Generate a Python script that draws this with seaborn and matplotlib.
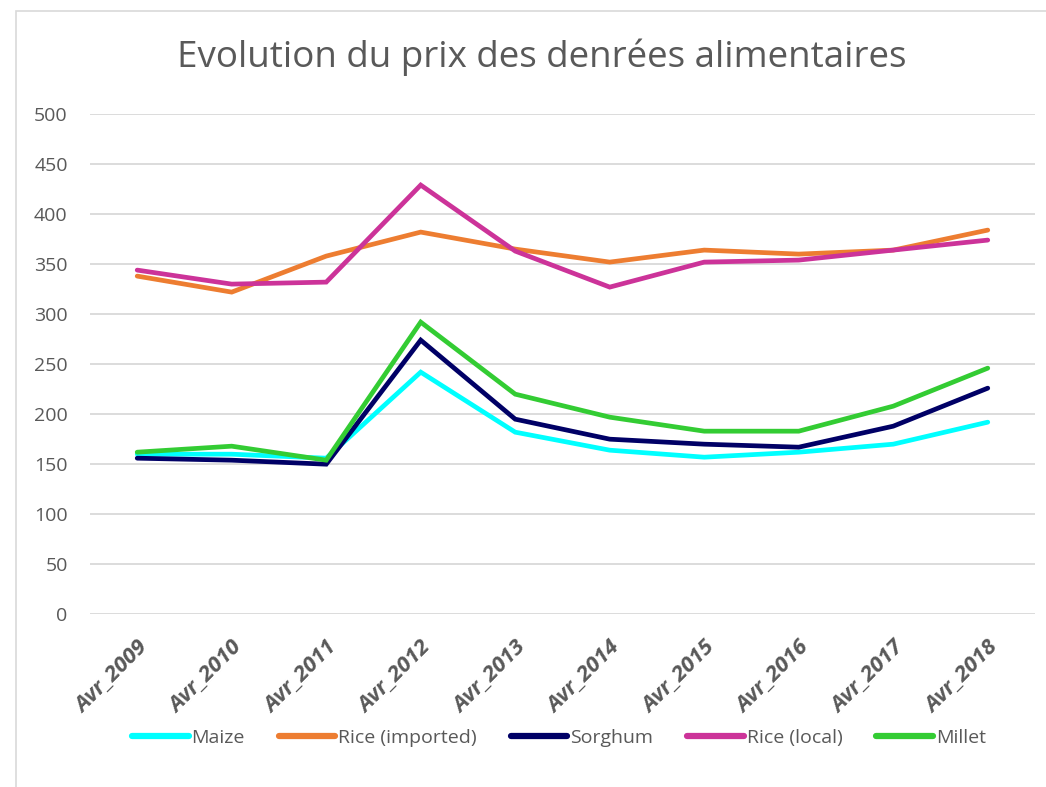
import matplotlib
matplotlib.use("Agg")
import matplotlib.pyplot as plt
import seaborn as sns
import pandas as pd
from matplotlib.patches import Rectangle

years = ["Avr_2009", "Avr_2010", "Avr_2011", "Avr_2012", "Avr_2013",
         "Avr_2014", "Avr_2015", "Avr_2016", "Avr_2017", "Avr_2018"]
maize = [160, 160, 156, 242, 182, 164, 157, 162, 170, 192]
rice_imported = [338, 322, 358, 382, 365, 352, 364, 360, 364, 384]
sorghum = [156, 154, 150, 274, 195, 175, 170, 167, 188, 226]
rice_local = [344, 330, 332, 429, 363, 327, 352, 354, 364, 374]
millet = [162, 168, 154, 292, 220, 197, 183, 183, 208, 246]

series_names = ["Maize", "Rice (imported)", "Sorghum", "Rice (local)", "Millet"]
series_values = [maize, rice_imported, sorghum, rice_local, millet]
colors = ["#00FFFF", "#ED7D31", "#000066", "#CC3399", "#33CC33"]

rows = []
for name, vals in zip(series_names, series_values):
    for i, (y, v) in enumerate(zip(years, vals)):
        rows.append({"idx": i, "year": y, "serie": name, "prix": v})
df = pd.DataFrame(rows)

sns.set_theme(style="white")
plt.rcParams["font.family"] = ["Open Sans", "DejaVu Sans"]

fig = plt.figure(figsize=(10.46, 7.87), dpi=100)
ax = fig.add_axes([0.086, 0.2195, 0.9035, 0.6356])

sns.lineplot(data=df, x="idx", y="prix", hue="serie", hue_order=series_names,
             palette=colors, linewidth=3.4, sort=False, ax=ax,
             solid_capstyle="round", solid_joinstyle="miter")

ax.set_xlim(-0.5, len(years) - 0.5)
ax.set_ylim(0, 500)
ax.set_yticks(range(0, 501, 50))
ax.set_xticks(range(len(years)))
ax.set_xticklabels(years, rotation=45, ha="right", rotation_mode="anchor",
                   fontsize=16, fontweight="bold", fontstyle="italic", color="#595959")
ax.tick_params(axis="y", labelsize=14, labelcolor="#595959", length=0, pad=16)
ax.tick_params(axis="x", length=0, pad=16)
ax.set_xlabel("")
ax.set_ylabel("")
for s in ax.spines.values():
    s.set_visible(False)
ax.yaxis.grid(True, color="#D9D9D9", linewidth=1.3)
ax.set_axisbelow(True)

handles, labels = ax.get_legend_handles_labels()
leg = ax.legend(handles, labels, ncol=5, loc="center",
                bbox_to_anchor=(559 / 1046, 1 - 738 / 787),
                bbox_transform=fig.transFigure, frameon=False, fontsize=14,
                handlelength=2.9, handletextpad=0.15, columnspacing=1.75)
for t in leg.get_texts():
    t.set_color("#595959")
for h in leg.get_lines():
    h.set_linewidth(4.5)

fig.text(542 / 1046, 1 - 57 / 787, "Evolution du prix des denrées alimentaires",
         ha="center", va="center", fontsize=26.5, color="#595959")

fig.patches.append(Rectangle((16 / 1046, -0.1), 1.2, 1 - 11 / 787 + 0.1,
                             transform=fig.transFigure, fill=False,
                             edgecolor="#D9D9D9", linewidth=1.2))

fig.savefig("out.png", dpi=100, facecolor="white")
